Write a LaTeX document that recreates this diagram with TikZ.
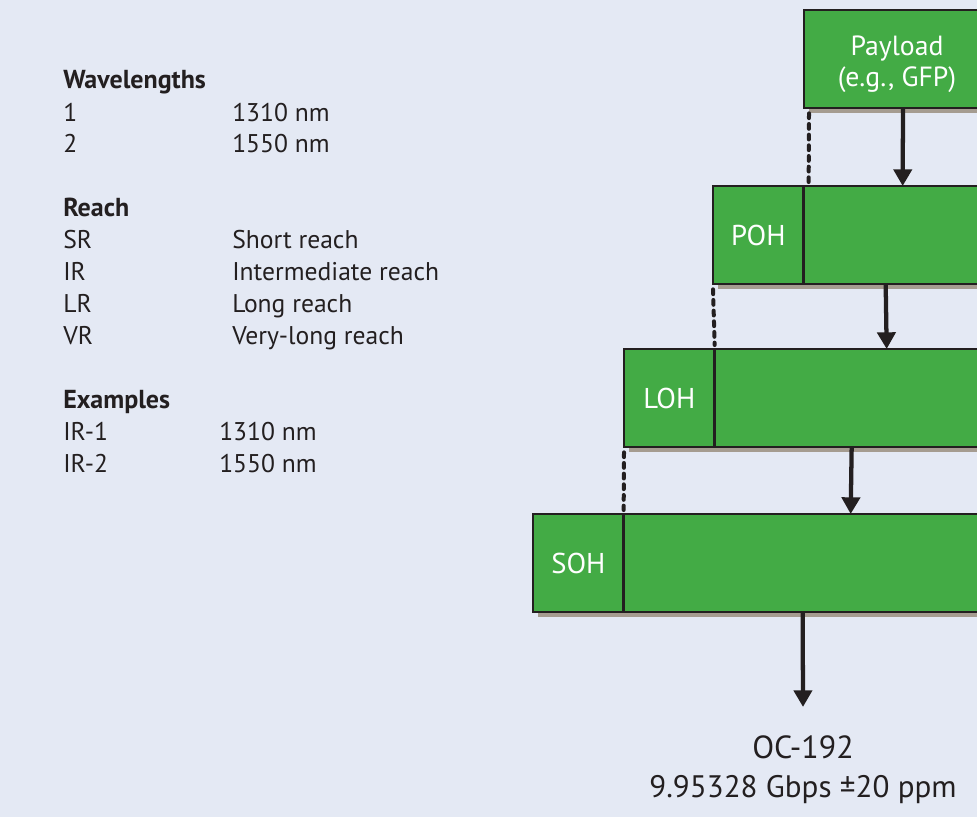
\documentclass[tikz,border=0pt]{standalone}
\usepackage{fontspec}
\setmainfont{PT Sans}
\usetikzlibrary{arrows.meta,shadows}
\definecolor{bg}{HTML}{E4E9F4}
\definecolor{grn}{HTML}{43AB45}
\definecolor{edge}{HTML}{231F20}
\definecolor{shc}{HTML}{A59C90}
\definecolor{txt}{HTML}{231F20}
\tikzset{
  boxs/.style={draw=edge, line width=2.2pt, fill=grn, inner sep=0pt, outer sep=0pt,
    anchor=north west, minimum height=73.5pt, text=white,
    drop shadow={shadow xshift=3.75pt, shadow yshift=-3.75pt, fill=shc, opacity=1}},
  hdr/.style={boxs, minimum width=68pt, font=\fontsize{21.5}{25}\selectfont},
  arr/.style={draw=edge, line width=3.2pt, -{Triangle[width=13.5pt,length=12.5pt]}},
  dsh/.style={draw=edge, line width=3pt, dash pattern=on 3.6pt off 4.4pt, line cap=round},
  lt/.style={anchor=base west, inner sep=0pt, font=\fontsize{19.2}{22}\selectfont, text=txt},
  lh/.style={lt, font=\bfseries\fontsize{19.5}{22}\selectfont},
  ct/.style={anchor=base, inner sep=0pt, text=txt}
}
\begin{document}
\begin{tikzpicture}[x=0.75pt,y=-0.75pt]
\fill[bg] (0,0) rectangle (977,817);
\useasboundingbox (0,0) rectangle (977,817);
\clip (0,0) rectangle (977,817);

% left legend
\node[lh] (h1) at (63,89) {Wavelengths};
\node[lt] (w1a) at (63,121) {1};
\node[lt] (w1b) at (232,121) {1310 nm};
\node[lt] (w2a) at (63,152) {2};
\node[lt] (w2b) at (232,152) {1550 nm};

\node[lh] (h2) at (63,216) {Reach};
\node[lt] (r1a) at (63,248) {SR};
\node[lt] (r1b) at (232,248) {Short reach};
\node[lt] (r2a) at (63,280) {IR};
\node[lt] (r2b) at (232,280) {Intermediate reach};
\node[lt] (r3a) at (63,312) {LR};
\node[lt] (r3b) at (232,312) {Long reach};
\node[lt] (r4a) at (63,344) {VR};
\node[lt] (r4b) at (232,344) {Very-long reach};

\node[lh] (h3) at (63,408) {Examples};
\node[lt] (e1a) at (63,440) {IR-1};
\node[lt] (e1b) at (219,440) {1310 nm};
\node[lt] (e2a) at (63,472) {IR-2};
\node[lt] (e2b) at (219,472) {1550 nm};

% frames
\node[boxs, minimum width=139.5pt] (pay) at (804,10) {};
\node[align=center, inner sep=0pt, text=white, font=\fontsize{20.8}{23}\selectfont] (paytxt) at (897,64) {Payload\\(e.g., GFP)};

\node[hdr] (poh) at (713,186) {POH};
\node[boxs, minimum width=160pt] (pohb) at (poh.north east) {};

\node[hdr] (loh) at (624,349) {LOH};
\node[boxs, minimum width=240pt] (lohb) at (loh.north east) {};

\node[hdr] (soh) at (533,514) {SOH};
\node[boxs, minimum width=310pt] (sohb) at (soh.north east) {};

\node[ct, font=\fontsize{24}{28}\selectfont] (oc) at (803,758) {OC-192};
\node[ct, font=\fontsize{23.3}{28}\selectfont] (rate) at (803,797) {9.95328 Gbps ±20 ppm};

% dashed guides
\draw[dsh] ([xshift=3.75pt,yshift=-4pt]pay.south west) -- ([xshift=3.75pt,yshift=3pt]pohb.north west);
\draw[dsh] ([yshift=-4pt]poh.south west) -- ([yshift=3pt]lohb.north west);
\draw[dsh] ([yshift=-4pt]loh.south west) -- ([yshift=3pt]sohb.north west);

% arrows
\draw[arr] ([xshift=74.25pt]pay.south west) -- ([xshift=74.25pt]pohb.north west);
\draw[arr] ([xshift=61.5pt]pohb.south west) -- ([xshift=129pt]lohb.north west);
\draw[arr] ([xshift=102.75pt]lohb.south west) -- ([xshift=170.25pt]sohb.north west);
\draw[arr] ([xshift=134.25pt]sohb.south west) -- ([yshift=21pt]oc.north);
\end{tikzpicture}
\end{document}
